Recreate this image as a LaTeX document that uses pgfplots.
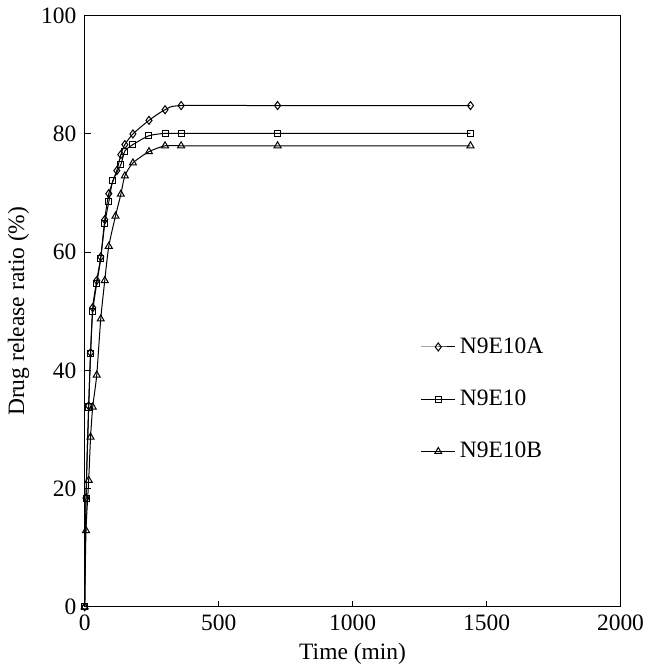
\documentclass[border=0pt]{standalone}
\usepackage{fontspec}
\setmainfont{Liberation Serif}
\usepackage{pgfplots}
\pgfplotsset{compat=1.18}

\pgfplotstableread{
t v
0 0
5 18.4
15 34.0
22 43.0
30 50.6
45 55.2
60 59.2
75 65.5
90 69.9
120 73.8
135 76.5
150 78.2
180 80.0
240 82.3
300 84.1
360 84.8
720 84.8
1440 84.8
}\dataA

\pgfplotstableread{
t v
0 0
5 18.4
15 33.8
22 42.8
30 49.9
45 54.7
60 58.9
75 64.8
90 68.5
105 72.1
135 74.8
150 77.1
180 78.2
240 79.7
300 80.1
360 80.1
720 80.1
1440 80.1
}\dataM

\pgfplotstableread{
t v
0 0
5 12.9
15 21.4
22 28.7
30 33.8
45 39.2
60 48.7
75 55.2
90 61.0
115 66.1
135 69.8
150 72.9
180 75.1
240 77.0
300 78.0
360 78.0
720 78.0
1440 78.0
}\dataB

\begin{document}
\fontsize{11.7}{14}\selectfont
\begin{tikzpicture}
\begin{axis}[
    width=267pt, height=294.5pt,
    scale only axis,
    xmin=0, xmax=2000, ymin=0, ymax=100,
    xtick={0,500,1000,1500,2000},
    ytick={0,20,40,60,80,100},
    tick align=inside,
    major tick length=3pt,
    xtick pos=bottom, ytick pos=left,
    tick style={black, line width=0.5pt},
    axis line style={line width=0.7pt},
    /pgf/number format/assume math mode=true,
    /pgf/number format/1000 sep={},
    ticklabel style={font=\fontsize{11.7}{14}\selectfont},
    label style={font=\fontsize{11.7}{14}\selectfont},
    xlabel={Time (min)},
    ylabel={Drug release ratio (\%)},
    xlabel style={yshift=2pt},
    ylabel style={yshift=-2pt},
    legend style={at={(axis cs:1230,47)}, anchor=north west, draw=none, fill=none,
        font=\fontsize{11.7}{14}\selectfont, row sep=12.5pt,
        /tikz/every even column/.append style={column sep=0pt}},
    legend cell align=left,
    legend image post style={sharp plot},
    every axis plot/.append style={black, line width=0.5pt, smooth, tension=0.4},
]
\addplot[mark=diamond, mark size=2pt, mark options={solid, fill=white}] table[x=t, y=v] {\dataA};
\addlegendentry{N9E10A}
\addplot[mark=square, mark size=1.5pt, mark options={solid, fill=white}] table[x=t, y=v] {\dataM};
\addlegendentry{N9E10}
\addplot[mark=triangle, mark size=2pt, mark options={solid, fill=white}] table[x=t, y=v] {\dataB};
\addlegendentry{N9E10B}
\end{axis}
\end{tikzpicture}
\end{document}
